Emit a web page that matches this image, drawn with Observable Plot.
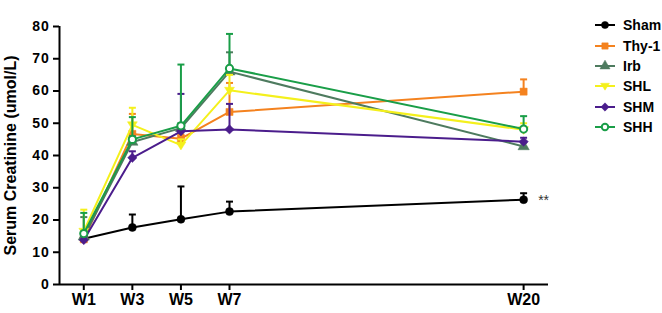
<!DOCTYPE html>
<html>
<head>
<meta charset="utf-8">
<script src="https://cdn.jsdelivr.net/npm/d3@7"></script>
<script src="https://cdn.jsdelivr.net/npm/@observablehq/plot@0.6"></script>
<style>
  body { margin: 0; background: #fff; }
  #wrap { position: relative; width: 662px; height: 313px; font-family: "Liberation Sans", Arial, sans-serif; }
  #legend { position: absolute; left: 595px; top: 15px; }
  .row { display: flex; align-items: center; height: 20.4px; }
  .row span { margin-left: 8px; font-size: 14px; font-weight: bold; color: #000; }
  g[aria-label="y-axis tick label"] text { letter-spacing: 0.8px; }
</style>
</head>
<body>
<div id="wrap"><div id="legend"></div></div>
<script>
// ---- data ----
const weeks = [1, 3, 5, 7, 20];
const weekLabels = ["W1", "W3", "W5", "W7", "W20"];
const groups = ["Sham", "Thy-1", "Irb", "SHL", "SHM", "SHH"];
const colors = ["#000000", "#f4821f", "#4e7b5f", "#f4f01c", "#4b1d8c", "#1a9e48"];
const shamMean = [14.2, 17.7, 20.2, 22.6, 26.3];
const shamTop  = [15.0, 21.7, 30.4, 25.7, 28.3];
const thyMean  = [14.0, 46.7, 45.2, 53.5, 59.8];
const thyTop   = [15.5, 52.9, 46.5, 62.5, 63.6];
const irbMean  = [14.8, 44.2, 48.5, 66.0, 42.8];
const irbTop   = [20.9, 46.0, 50.0, 72.0, 44.0];
const shlMean  = [16.5, 49.5, 43.2, 60.2, 48.0];
const shlTop   = [23.2, 54.8, 45.0, 65.0, 50.0];
const shmMean  = [13.8, 39.3, 47.5, 48.1, 44.3];
const shmTop   = [15.0, 41.3, 59.1, 56.0, 45.5];
const shhMean  = [15.8, 45.0, 49.2, 67.0, 48.2];
const shhTop   = [22.2, 51.9, 68.2, 77.7, 52.2];
const yTicks = [0, 10, 20, 30, 40, 50, 60, 70, 80];
const yLabel = "Serum Creatinine (umol/L)";
const note = "**";

const means = [shamMean, thyMean, irbMean, shlMean, shmMean, shhMean];
const tops = [shamTop, thyTop, irbTop, shlTop, shmTop, shhTop];

// ---- symbols ----
const triDown = {draw(ctx, size) {
  const a = Math.sqrt(size) * 0.62;
  ctx.moveTo(-a, -a * 0.62); ctx.lineTo(a, -a * 0.62); ctx.lineTo(0, a * 0.95); ctx.closePath();
}};
const cap = {draw(ctx) { ctx.moveTo(-3.5, 0); ctx.lineTo(3.5, 0); }};
const symbolSpec = [
  {symbol: "circle", r: 4, fill: true},
  {symbol: "square", r: 4, fill: true},
  {symbol: "triangle", r: 4.2, fill: true},
  {symbol: triDown, r: 4.5, fill: true},
  {symbol: "diamond2", r: 4.2, fill: true},
  {symbol: "circle", r: 3.6, fill: false}
];

const rows = [];
groups.forEach((g, gi) => weeks.forEach((w, i) => rows.push({group: g, gi, week: w, mean: means[gi][i], top: tops[gi][i]})));

const marks = [];
groups.forEach((g, gi) => {
  const d = rows.filter(r => r.gi === gi);
  const c = colors[gi];
  const s = symbolSpec[gi];
  marks.push(Plot.ruleX(d, {x: "week", y1: "mean", y2: "top", stroke: c, strokeWidth: 2}));
  marks.push(Plot.dot(d, {x: "week", y: "top", symbol: cap, r: 4, stroke: c, strokeWidth: 2, fill: "none"}));
  marks.push(Plot.line(d, {x: "week", y: "mean", stroke: c, strokeWidth: 2}));
  marks.push(Plot.dot(d, {x: "week", y: "mean", symbol: s.symbol, r: s.r,
    fill: s.fill ? c : "white", stroke: c, strokeWidth: s.fill ? 0.5 : 2}));
});

const chart = Plot.plot({
  width: 662, height: 313,
  marginLeft: 59, marginTop: 26, marginBottom: 29, marginRight: 114,
  style: {fontFamily: "Liberation Sans, Arial, sans-serif", background: "white", color: "#000"},
  x: {type: "linear", domain: [0, 7, 21.1], range: [59, 229, 548]},
  y: {domain: [0, 80]},
  marks: [
    Plot.axisY({ticks: yTicks, tickSize: 6, tickPadding: 4, strokeWidth: 2, fontSize: 14, fontWeight: "bold",
      label: yLabel, labelAnchor: "center", labelArrow: "none", labelOffset: 55}),
    Plot.axisX({ticks: weeks, tickFormat: (d) => weekLabels[weeks.indexOf(d)], tickSize: 6, tickPadding: 3,
      strokeWidth: 2, fontSize: 16, fontWeight: "bold", label: null}),
    Plot.ruleX([0], {y1: 0, y2: 80, strokeWidth: 2}),
    Plot.ruleY([0], {x1: 0, x2: 21.1, strokeWidth: 2}),
    ...marks,
    Plot.text([{week: weeks[4], mean: shamMean[4]}], {x: "week", y: "mean", text: () => note, dx: 20, dy: 1, fontSize: 14, fill: "#333"})
  ]
});
chart.querySelectorAll("g[aria-label='y-axis label'] text, g[aria-label='y-axis label']").forEach(e => { e.setAttribute("font-weight", "bold"); e.setAttribute("font-size", "16"); });
document.getElementById("wrap").prepend(chart);

// ---- legend ----
const leg = d3.select("#legend");
groups.forEach((g, gi) => {
  const row = leg.append("div").attr("class", "row");
  const svg = row.append("svg").attr("width", 20).attr("height", 12);
  svg.append("line").attr("x1", 0).attr("x2", 20).attr("y1", 6).attr("y2", 6).attr("stroke", colors[gi]).attr("stroke-width", 2);
  const s = symbolSpec[gi];
  const type = s.symbol === "circle" ? d3.symbolCircle : s.symbol === "square" ? d3.symbolSquare :
    s.symbol === "triangle" ? d3.symbolTriangle : s.symbol === "diamond2" ? d3.symbolDiamond2 : s.symbol;
  svg.append("path").attr("transform", "translate(10,6)")
    .attr("d", d3.symbol(type, Math.PI * s.r * s.r * 0.8)())
    .attr("fill", s.fill ? colors[gi] : "white").attr("stroke", colors[gi]).attr("stroke-width", s.fill ? 0.5 : 2);
  row.append("span").text(g);
});
</script>
</body>
</html>
